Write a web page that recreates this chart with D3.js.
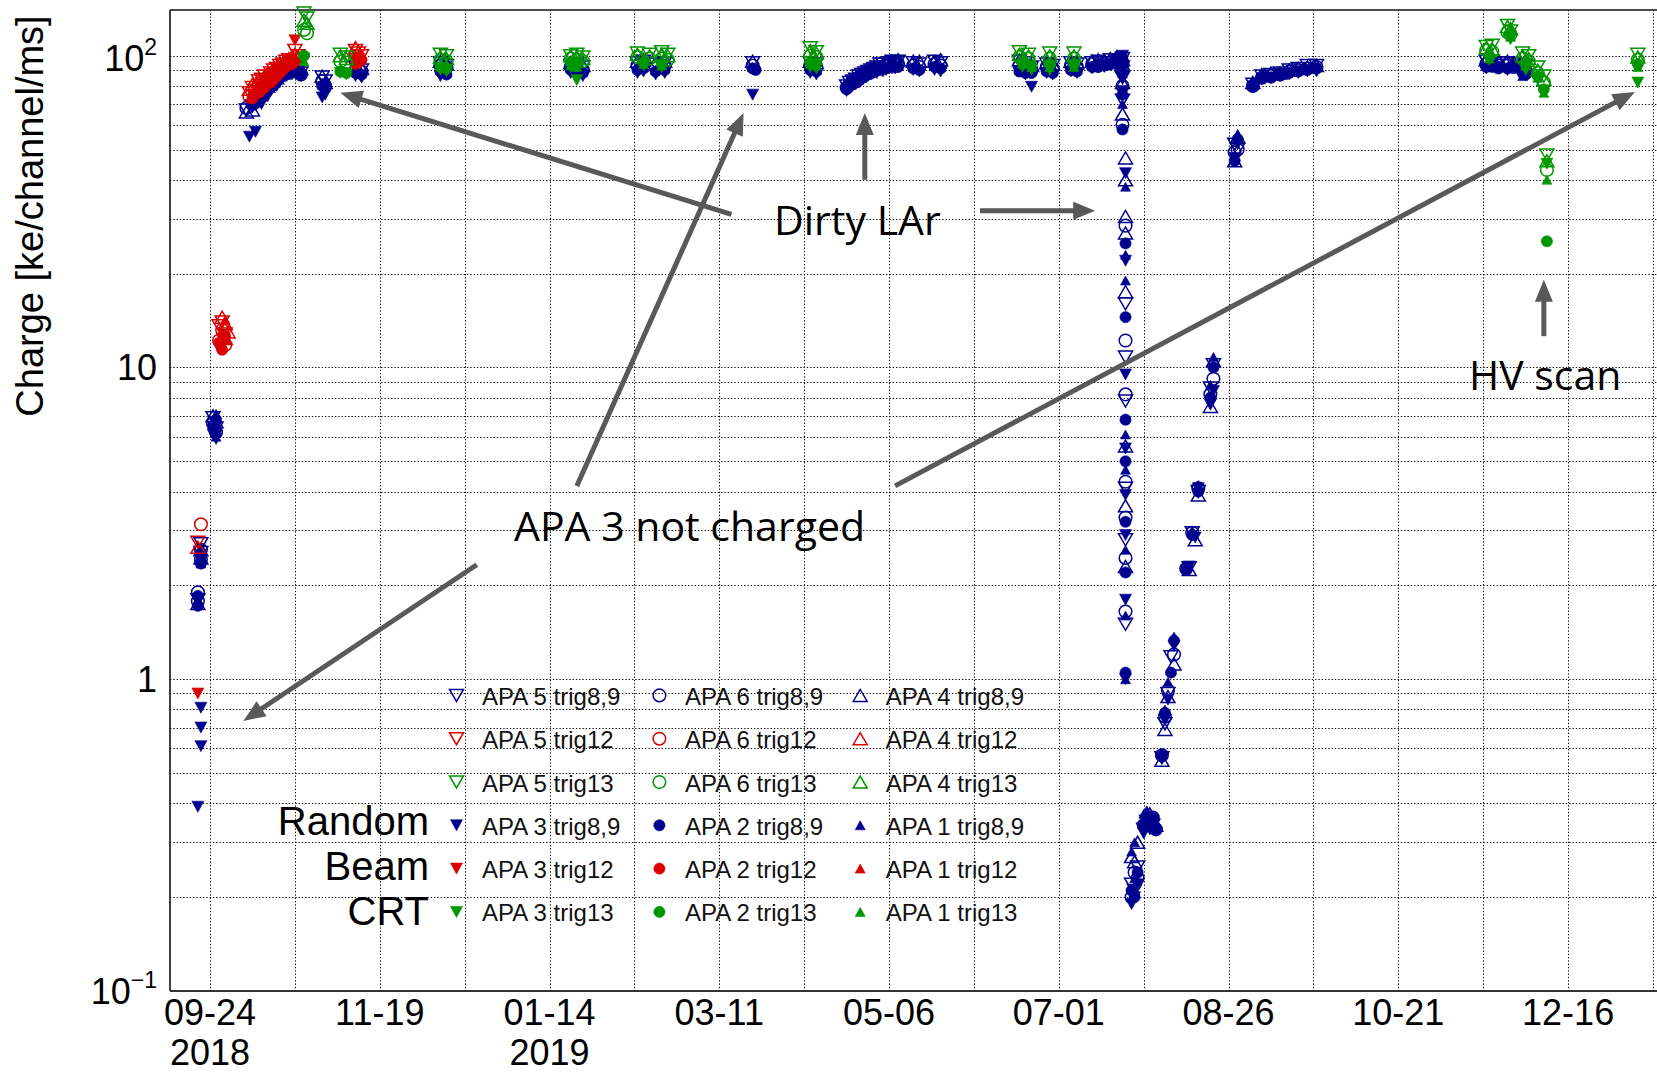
<!DOCTYPE html>
<html>
<head>
<meta charset="utf-8">
<title>Charge vs date</title>
<script src="https://cdn.jsdelivr.net/npm/d3@7"></script>
<style>
  body { margin: 0; background: #fff; overflow: hidden; }
  svg { display: block; }
</style>
</head>
<body>
<div id="chart"></div>
<script>
/******************************************************************************
**  Charge [ke/channel/ms] per APA and trigger type versus date (log scale)
**  trig8,9 = Random (blue), trig12 = Beam (red), trig13 = CRT (green)
******************************************************************************/

/* DATA - [date (yy-mm-dd), charge] ----------------------------------------- */
var apa5_trig89 = [
  ["18-09-20",1.80],["18-09-21",2.72],["18-09-21",2.55],["18-09-25",6.9],["18-09-26",6.4],
  ["18-10-06",67],["18-10-08",69],["18-10-09",72],["18-10-10",74],["18-10-11",76],["18-10-12",79],["18-10-13",81],["18-10-15",84],
  ["18-10-16",85],["18-10-17",87],["18-10-18",88],["18-10-19",90],["18-10-21",91],["18-10-22",92],["18-10-23",90],["18-10-24",88],
  ["18-10-31",85.5],["18-11-01",83],["18-11-11",92],["18-11-13",90],["18-12-09",95],["18-12-11",93],
  ["19-01-21",93],["19-01-23",94],["19-01-25",92],["19-02-12",95],["19-02-14",96],["19-02-18",94],["19-02-21",95],
  ["19-03-22",95],["19-04-10",95],["19-04-12",94],
  ["19-04-22",80],["19-04-23",82],["19-04-24",83],["19-04-25",84],["19-04-26",86],["19-04-27",87],["19-04-28",88],["19-04-29",89],
  ["19-04-30",90],["19-05-01",91],["19-05-02",92],["19-05-03",94],["19-05-04",94],["19-05-06",95],["19-05-07",96],["19-05-08",95],["19-05-09",96],
  ["19-05-14",95],["19-05-16",94],["19-05-21",96],["19-05-23",95],
  ["19-06-18",96],["19-06-20",95],["19-06-22",92],["19-06-27",94],["19-06-29",93],["19-07-05",95],["19-07-07",94],
  ["19-07-12",95],["19-07-14",96],["19-07-16",95],["19-07-18",97],["19-07-20",96],["19-07-21",97],["19-07-22",98],["19-07-22",92],
  ["19-07-22",85],["19-07-22",72],["19-07-23",16],["19-07-23",10.8],["19-07-23",7.8],["19-07-23",4.1],["19-07-23",2.8],["19-07-23",1.5],
  ["19-07-25",0.22],["19-07-26",0.21],["19-07-27",0.25],["19-07-29",0.33],["19-07-30",0.35],["19-08-01",0.34],
  ["19-08-04",0.56],["19-08-05",0.72],["19-08-06",0.9],["19-08-07",1.18],["19-08-13",2.28],["19-08-14",2.95],["19-08-16",4.0],
  ["19-08-20",8.6],["19-08-21",10.2],["19-08-28",52],["19-08-29",50],["19-09-03",81],
  ["19-09-06",86],["19-09-09",87],["19-09-12",88],["19-09-15",90],["19-09-18",91],["19-09-21",93],["19-09-24",93],
  ["19-11-19",96],["19-11-21",96],["19-11-23",95],["19-11-26",95],["19-11-28",94],["19-12-01",92],["19-12-02",93]
];
var apa6_trig89 = [
  ["18-09-20",1.9],["18-09-20",1.78],["18-09-21",2.42],["18-09-21",2.6],["18-09-25",6.6],["18-09-26",6.2],
  ["18-10-06",68],["18-10-08",70],["18-10-09",71],["18-10-10",73],["18-10-11",75],["18-10-12",78],["18-10-14",80],["18-10-15",82],
  ["18-10-16",84],["18-10-17",86],["18-10-18",87],["18-10-19",88],["18-10-21",90],["18-10-22",90],["18-10-23",89],["18-10-24",87],
  ["18-10-31",83],["18-11-01",80],["18-11-11",90],["18-11-13",89],["18-12-09",93],["18-12-11",92],
  ["19-01-21",92],["19-01-23",91],["19-01-25",90],["19-02-12",93],["19-02-14",94],["19-02-18",92],["19-02-21",93],
  ["19-03-22",93],["19-04-10",93],["19-04-12",92],
  ["19-04-22",79],["19-04-23",81],["19-04-24",82],["19-04-25",83],["19-04-26",85],["19-04-27",86],["19-04-28",87],["19-04-29",88],
  ["19-04-30",89],["19-05-01",90],["19-05-02",91],["19-05-03",92],["19-05-05",93],["19-05-06",93],["19-05-08",94],["19-05-09",94],
  ["19-05-14",93],["19-05-16",92],["19-05-21",94],["19-05-23",93],
  ["19-06-18",93],["19-06-20",92],["19-06-22",90],["19-06-27",92],["19-06-29",91],["19-07-05",93],["19-07-07",92],
  ["19-07-12",94],["19-07-14",93],["19-07-16",94],["19-07-18",95],["19-07-20",96],["19-07-21",95],["19-07-22",95],["19-07-22",90],
  ["19-07-22",80],["19-07-22",60],["19-07-23",28.5],["19-07-23",12.2],["19-07-23",8.2],["19-07-23",4.3],["19-07-23",3.3],["19-07-23",2.45],["19-07-23",1.65],
  ["19-07-25",0.2],["19-07-26",0.24],["19-07-27",0.23],["19-07-29",0.34],["19-07-30",0.34],["19-08-01",0.36],["19-08-02",0.33],
  ["19-08-04",0.57],["19-08-05",0.76],["19-08-06",0.92],["19-08-08",1.2],["19-08-12",2.26],["19-08-14",2.95],["19-08-16",4.1],
  ["19-08-20",8.2],["19-08-21",9.2],["19-08-28",49],["19-08-29",50],["19-09-03",80],
  ["19-09-06",85],["19-09-09",86],["19-09-12",87],["19-09-15",89],["19-09-18",90],["19-09-21",91],["19-09-24",92],
  ["19-11-19",94],["19-11-21",94],["19-11-23",93],["19-11-26",93],["19-11-28",92],["19-12-01",90],["19-12-02",89]
];
var apa4_trig89 = [
  ["18-09-20",1.75],["18-09-21",2.6],["18-09-21",2.45],["18-09-25",7.0],["18-09-26",6.7],
  ["18-10-06",66],["18-10-08",67],["18-10-09",73],["18-10-10",75],["18-10-12",79],["18-10-13",80],["18-10-14",83],["18-10-16",85],
  ["18-10-17",87],["18-10-18",88],["18-10-19",89],["18-10-20",90],["18-10-22",93],["18-10-23",91],["18-10-24",91],
  ["18-10-31",86],["18-11-01",82],["18-11-11",93],["18-11-13",91],["18-12-09",96],["18-12-11",94],
  ["19-01-21",95],["19-01-23",94],["19-01-25",93],["19-02-12",96],["19-02-14",97],["19-02-18",95],["19-02-21",96],
  ["19-03-22",96],["19-04-10",96],["19-04-12",95],
  ["19-04-23",83],["19-04-24",84],["19-04-25",85],["19-04-26",86],["19-04-27",88],["19-04-28",89],["19-04-29",90],["19-04-30",91],
  ["19-05-01",92],["19-05-02",93],["19-05-04",94],["19-05-05",95],["19-05-07",96],["19-05-08",96],["19-05-09",97],
  ["19-05-14",96],["19-05-16",96],["19-05-21",96],["19-05-23",97],
  ["19-06-18",97],["19-06-20",96],["19-06-22",93],["19-06-27",95],["19-06-29",94],["19-07-05",96],["19-07-07",95],
  ["19-07-12",96],["19-07-14",97],["19-07-16",96],["19-07-18",98],["19-07-20",99],["19-07-21",98],["19-07-22",97],["19-07-22",94],
  ["19-07-22",82],["19-07-22",65],["19-07-23",47],["19-07-23",40],["19-07-23",30.5],["19-07-23",27],["19-07-23",17.5],["19-07-23",5.6],["19-07-23",3.6],["19-07-23",2.3],
  ["19-07-25",0.27],["19-07-26",0.26],["19-07-27",0.3],["19-07-30",0.36],["19-07-31",0.37],["19-08-02",0.34],
  ["19-08-04",0.55],["19-08-05",0.69],["19-08-06",0.88],["19-08-08",1.12],["19-08-13",2.25],["19-08-15",2.8],["19-08-16",3.9],
  ["19-08-20",7.5],["19-08-21",10.5],["19-08-28",46],["19-08-29",55],["19-09-03",82],
  ["19-09-06",87],["19-09-09",88],["19-09-12",88],["19-09-15",90],["19-09-18",91],["19-09-21",92],["19-09-24",93],
  ["19-11-19",97],["19-11-21",97],["19-11-23",96],["19-11-26",96],["19-11-28",95],["19-12-01",93],["19-12-02",94]
];
var apa3_trig89 = [
  ["18-09-20",0.39],["18-09-21",0.61],["18-09-21",0.70],["18-09-21",0.81],["18-09-25",6.1],["18-09-26",5.9],
  ["18-10-07",55],["18-10-09",57],["18-10-11",70],["18-10-13",74],["18-10-14",77],["18-10-16",80],["18-10-17",82],["18-10-19",86],
  ["18-10-21",87],["18-10-22",88],["18-10-24",86],
  ["18-10-31",73.5],["18-11-01",75],["18-11-11",86],["18-11-13",85],["18-12-09",86],["18-12-11",88],
  ["19-01-21",88],["19-01-23",87],["19-01-25",86],["19-02-12",88],["19-02-14",89],["19-02-18",87],["19-02-21",88],
  ["19-03-22",75],["19-04-10",88],["19-04-12",87],
  ["19-04-22",77],["19-04-23",79],["19-04-24",80],["19-04-25",81],["19-04-26",82],["19-04-27",84],["19-04-28",85],["19-04-29",86],
  ["19-04-30",87],["19-05-01",88],["19-05-02",88],["19-05-04",89],["19-05-05",90],["19-05-07",91],["19-05-08",91],
  ["19-05-14",90],["19-05-16",89],["19-05-21",90],["19-05-23",89],
  ["19-06-18",89],["19-06-20",87],["19-06-22",79.5],["19-06-27",88],["19-06-29",87],["19-07-05",89],["19-07-07",88],
  ["19-07-12",91],["19-07-14",92],["19-07-16",92],["19-07-18",93],["19-07-20",94],["19-07-21",95],["19-07-22",100],["19-07-22",96],
  ["19-07-22",85],["19-07-22",77],["19-07-23",42],["19-07-23",22],["19-07-23",9.5],["19-07-23",5.5],["19-07-23",3.9],["19-07-23",2.9],["19-07-23",1.8],["19-07-23",1.0],
  ["19-07-25",0.19],["19-07-26",0.2],["19-07-27",0.22],["19-07-29",0.32],["19-07-31",0.33],["19-08-01",0.35],
  ["19-08-04",0.56],["19-08-05",0.74],["19-08-06",0.86],["19-08-08",1.28],["19-08-13",2.3],["19-08-15",2.85],["19-08-16",4.1],
  ["19-08-20",7.6],["19-08-21",8.4],["19-08-28",47],["19-08-29",52],["19-09-03",79],
  ["19-09-06",84],["19-09-09",85],["19-09-12",86],["19-09-15",87],["19-09-18",88],["19-09-21",89],["19-09-24",89],
  ["19-11-19",91],["19-11-22",92],["19-11-26",90],["19-12-01",87]
];
var apa2_trig89 = [
  ["18-09-20",1.85],["18-09-20",1.72],["18-09-21",2.35],["18-09-21",2.5],["18-09-25",6.5],["18-09-26",6.3],["18-09-26",6.8],
  ["18-10-08",70],["18-10-10",72],["18-10-11",74],["18-10-12",76],["18-10-13",78],["18-10-15",81],["18-10-16",83],["18-10-17",85],
  ["18-10-18",86],["18-10-19",87],["18-10-20",88],["18-10-22",89],["18-10-23",88],["18-10-24",87],
  ["18-10-31",80],["18-11-01",81],["18-11-11",88],["18-11-13",87],["18-12-09",89],["18-12-11",87],
  ["19-01-21",90],["19-01-23",89],["19-01-25",88],["19-02-12",90],["19-02-14",91],["19-02-18",89],["19-02-21",90],
  ["19-03-22",91],["19-03-23",90],["19-04-10",90],["19-04-12",89],
  ["19-04-22",78],["19-04-23",80],["19-04-24",81],["19-04-25",82],["19-04-26",83],["19-04-27",85],["19-04-28",86],["19-04-29",87],
  ["19-04-30",88],["19-05-01",89],["19-05-02",90],["19-05-03",90],["19-05-05",91],["19-05-06",92],["19-05-08",92],["19-05-09",92],
  ["19-05-14",91],["19-05-16",90],["19-05-21",92],["19-05-23",91],
  ["19-06-18",89],["19-06-20",88],["19-06-22",88],["19-06-27",89],["19-06-29",88],["19-07-05",90],["19-07-07",89],
  ["19-07-12",92],["19-07-14",92],["19-07-16",93],["19-07-18",94],["19-07-20",94],["19-07-21",95],["19-07-22",93],["19-07-22",97],
  ["19-07-22",88],["19-07-22",75],["19-07-22",58],["19-07-23",25],["19-07-23",14.5],["19-07-23",6.8],["19-07-23",5.0],["19-07-23",3.2],["19-07-23",2.2],["19-07-23",1.05],
  ["19-07-25",0.21],["19-07-26",0.2],["19-07-27",0.24],["19-07-29",0.34],["19-07-30",0.36],["19-08-01",0.36],["19-08-02",0.33],
  ["19-08-04",0.57],["19-08-05",0.78],["19-08-07",1.05],["19-08-08",1.33],["19-08-12",2.26],["19-08-14",2.9],["19-08-16",4.0],
  ["19-08-20",8.0],["19-08-21",10.0],["19-08-28",46],["19-08-29",54],["19-09-03",80],
  ["19-09-06",85],["19-09-09",85],["19-09-12",87],["19-09-15",88],["19-09-18",89],["19-09-21",90],["19-09-24",91],
  ["19-11-19",92],["19-11-21",92],["19-11-23",91],["19-11-26",91],["19-11-28",92],["19-12-01",88],["19-12-02",87]
];
var apa1_trig89 = [
  ["18-09-20",1.8],["18-09-21",2.5],["18-09-21",2.65],["18-09-21",2.35],["18-09-25",6.8],["18-09-26",7.1],["18-09-26",6.0],
  ["18-10-08",71],["18-10-10",73],["18-10-11",75],["18-10-12",77],["18-10-14",80],["18-10-15",82],["18-10-16",84],["18-10-17",86],
  ["18-10-18",87],["18-10-19",88],["18-10-21",89],["18-10-22",90],["18-10-23",89],["18-10-24",89],
  ["18-10-31",82],["18-11-01",79],["18-11-11",89],["18-11-13",88],["18-12-09",90],["18-12-11",88],
  ["19-01-21",91],["19-01-23",90],["19-01-25",89],["19-02-12",91],["19-02-14",92],["19-02-18",90],["19-02-21",91],
  ["19-03-22",92],["19-04-10",91],["19-04-12",90],
  ["19-04-22",79],["19-04-23",81],["19-04-24",82],["19-04-25",82],["19-04-26",84],["19-04-27",85],["19-04-28",87],["19-04-29",87],
  ["19-04-30",88],["19-05-01",89],["19-05-02",91],["19-05-03",91],["19-05-05",92],["19-05-06",92],["19-05-07",93],["19-05-09",93],
  ["19-05-14",92],["19-05-16",91],["19-05-21",93],["19-05-23",92],
  ["19-06-18",90],["19-06-20",89],["19-06-22",89],["19-06-27",90],["19-06-29",89],["19-07-05",91],["19-07-07",90],
  ["19-07-12",93],["19-07-14",93],["19-07-16",94],["19-07-18",95],["19-07-20",96],["19-07-21",96],["19-07-22",99],["19-07-22",98],
  ["19-07-22",88],["19-07-22",70],["19-07-23",38],["19-07-23",23],["19-07-23",19],["19-07-23",6.1],["19-07-23",4.7],["19-07-23",2.6],["19-07-23",1.6],["19-07-23",1.0],
  ["19-07-25",0.28],["19-07-26",0.3],["19-07-26",0.23],["19-07-29",0.37],["19-07-30",0.38],["19-08-02",0.35],
  ["19-08-04",0.58],["19-08-05",0.8],["19-08-06",0.98],["19-08-08",1.37],["19-08-12",2.3],["19-08-14",3.0],["19-08-16",4.2],
  ["19-08-20",8.8],["19-08-21",10.8],["19-08-28",48],["19-08-29",56],["19-09-03",82],
  ["19-09-06",86],["19-09-09",86],["19-09-12",88],["19-09-15",89],["19-09-18",90],["19-09-21",91],["19-09-24",92],
  ["19-11-19",93],["19-11-21",93],["19-11-23",92],["19-11-26",92],["19-11-28",94],["19-12-01",86],["19-12-02",88]
];

var apa5_trig12 = [["18-09-20",2.75],["18-09-27",13.6],["18-09-28",14],["18-09-29",12.8],["18-10-07",76],["18-10-08",79],["18-10-10",83],["18-10-11",84],["18-10-12",86],["18-10-14",88],["18-10-15",90],["18-10-16",91],["18-10-17",93],["18-10-18",94],["18-10-19",96],["18-10-20",97],["18-10-22",104],["18-10-23",100],["18-11-11",104],["18-11-12",102],["18-11-13",100]];
var apa6_trig12 = [["18-09-21",3.14],["18-09-27",12.2],["18-09-28",13.2],["18-09-29",11.8],["18-10-07",74],["18-10-09",78],["18-10-10",80],["18-10-11",82],["18-10-13",85],["18-10-14",87],["18-10-15",88],["18-10-16",90],["18-10-18",92],["18-10-19",94],["18-10-20",95],["18-10-22",99],["18-10-23",98],["18-11-11",100],["18-11-12",98]];
var apa4_trig12 = [["18-09-20",2.65],["18-09-28",14.5],["18-09-29",13.8],["18-09-30",13],["18-10-07",78],["18-10-08",81],["18-10-10",84],["18-10-12",86],["18-10-13",88],["18-10-15",90],["18-10-16",92],["18-10-17",94],["18-10-19",96],["18-10-20",98],["18-10-22",101],["18-10-23",99],["18-11-11",106],["18-11-12",103]];
var apa3_trig12 = [["18-09-20",0.90],["18-09-27",11.5],["18-09-28",12.4],["18-10-08",75],["18-10-10",77],["18-10-11",79],["18-10-12",80],["18-10-14",84],["18-10-15",86],["18-10-17",88],["18-10-18",90],["18-10-20",96],["18-10-21",97],["18-10-22",112],["18-11-11",96],["18-11-12",98]];
var apa2_trig12 = [["18-09-27",12],["18-09-28",11.4],["18-09-29",12.6],["18-10-08",73],["18-10-10",76],["18-10-11",78],["18-10-12",79],["18-10-14",82],["18-10-15",84],["18-10-16",86],["18-10-17",88],["18-10-18",90],["18-10-19",92],["18-10-21",94],["18-10-22",96],["18-11-11",94],["18-11-12",95],["18-11-13",97]];
var apa1_trig12 = [["18-09-28",13],["18-09-29",14.2],["18-09-30",12.2],["18-10-08",74],["18-10-10",78],["18-10-11",80],["18-10-12",82],["18-10-14",84],["18-10-15",86],["18-10-16",87],["18-10-17",89],["18-10-18",91],["18-10-19",93],["18-10-21",95],["18-10-22",98],["18-11-11",97],["18-11-12",99]];

var apa5_trig13 = [["18-10-25",137],["18-10-26",132],["18-11-06",101],["18-11-08",99],["18-12-09",101],["18-12-11",100],["19-01-21",100],["19-01-23",101],["19-01-25",99],["19-02-12",102],["19-02-16",101],["19-02-20",103],["19-02-22",101],["19-04-10",106],["19-04-12",103],["19-06-18",103],["19-06-21",101],["19-06-28",102],["19-07-06",102],["19-11-19",107],["19-11-21",108],["19-11-26",125],["19-11-27",120],["19-12-01",102],["19-12-03",100],["19-12-06",92],["19-12-08",86],["19-12-09",48],["20-01-08",101]];
var apa6_trig13 = [["18-10-25",121],["18-10-26",118],["18-11-06",96],["18-11-08",95],["18-12-09",97],["18-12-11",96],["19-01-21",98],["19-01-23",97],["19-01-25",96],["19-02-12",99],["19-02-16",98],["19-02-20",98],["19-02-22",97],["19-04-10",100],["19-04-12",99],["19-06-18",99],["19-06-21",98],["19-06-28",98],["19-07-06",98],["19-11-19",104],["19-11-21",103],["19-11-26",119],["19-11-27",117],["19-12-01",98],["19-12-03",96],["19-12-06",88],["19-12-08",82],["19-12-09",43],["20-01-08",97]];
var apa4_trig13 = [["18-10-25",130],["18-10-26",127],["18-11-06",100],["18-11-08",98],["18-12-09",99],["18-12-11",98],["19-01-21",100],["19-01-23",99],["19-01-25",98],["19-02-12",101],["19-02-16",100],["19-02-20",101],["19-02-22",100],["19-04-10",104],["19-04-12",102],["19-06-18",101],["19-06-21",100],["19-06-28",100],["19-07-06",100],["19-11-19",106],["19-11-21",105],["19-11-26",124],["19-11-27",122],["19-12-01",100],["19-12-03",98],["19-12-06",90],["19-12-08",84],["19-12-09",46],["20-01-08",99]];
var apa3_trig13 = [["18-10-25",98],["18-11-06",88],["18-11-08",87],["18-12-09",90],["18-12-11",89],["19-01-21",92],["19-01-23",83.5],["19-02-14",93],["19-02-20",92],["19-04-10",92],["19-04-12",91],["19-06-19",92],["19-06-22",90],["19-06-28",90],["19-07-06",93],["19-11-20",97],["19-11-27",113],["19-12-02",90],["19-12-06",84],["19-12-08",77],["19-12-09",45],["20-01-08",82]];
var apa2_trig13 = [["18-10-25",100],["18-11-06",89],["18-11-08",88],["18-12-09",92],["18-12-11",91],["19-01-21",95],["19-01-23",94],["19-02-14",95],["19-02-20",94],["19-04-10",95],["19-04-12",94],["19-06-19",95],["19-06-22",93],["19-06-28",94],["19-07-06",94],["19-11-20",100],["19-11-27",118],["19-12-02",95],["19-12-06",86],["19-12-08",78],["19-12-09",25.4],["20-01-08",94]];
var apa1_trig13 = [["18-10-25",96],["18-11-06",90],["18-11-08",89],["18-12-09",93],["18-12-11",92],["19-01-21",93],["19-01-23",92],["19-02-14",94],["19-02-20",93],["19-04-10",94],["19-04-12",93],["19-06-19",94],["19-06-22",92],["19-06-28",92],["19-07-06",92],["19-11-20",98],["19-11-27",115],["19-12-02",93],["19-12-06",85],["19-12-08",76],["19-12-09",40],["20-01-08",92]];

// axis labels
var xTickLabels = ["09-24","11-19","01-14","03-11","05-06","07-01","08-26","10-21","12-16"];
var xYearLabels = ["2018","","2019","","","","","",""];
var yTickValues = [0.1, 1, 10, 100];
var yTickBase   = ["10", "1", "10", "10"];
var yTickExp    = ["\u22121", "", "", "2"];

// legend order: rows of three, as in the figure
var legendApas  = [[5, 6, 4], [3, 2, 1]];
var legendTrigs = ["8,9", "12", "13"];
var triggerNames = ["Random", "Beam", "CRT"];

// annotation arrows, in data units [date, charge]
var arrows = [
  {from: ["19-03-15", 31],   to: ["18-11-06", 76]},
  {from: ["19-04-28", 40],   to: ["19-04-28", 65.5]},
  {from: ["19-06-05", 31.8], to: ["19-07-13", 31.8]},
  {from: ["19-01-23", 4.17], to: ["19-03-19", 65.5]},
  {from: ["19-05-08", 4.17], to: ["20-01-07", 76.5]},
  {from: ["18-12-21", 2.33], to: ["18-10-05", 0.735]},
  {from: ["19-12-08", 12.6], to: ["19-12-08", 19.1]}
];

/* BUILD CHART ------------------------------------------------------------- */
var width = 1657, height = 1073;
var plotLeft = 170, plotTop = 10, plotBottom = 991, plotRight = 1662;

var trigColor = {"8,9": "#00008e", "12": "#d80000", "13": "#009600"};
var apaShape  = {5: "triDown", 6: "circle", 4: "triUp", 3: "triDown", 2: "circle", 1: "triUp"};
var apaOpen   = {5: true, 6: true, 4: true, 3: false, 2: false, 1: false};

var dataByKey = {
  "5|8,9": apa5_trig89, "6|8,9": apa6_trig89, "4|8,9": apa4_trig89,
  "3|8,9": apa3_trig89, "2|8,9": apa2_trig89, "1|8,9": apa1_trig89,
  "5|12": apa5_trig12, "6|12": apa6_trig12, "4|12": apa4_trig12,
  "3|12": apa3_trig12, "2|12": apa2_trig12, "1|12": apa1_trig12,
  "5|13": apa5_trig13, "6|13": apa6_trig13, "4|13": apa4_trig13,
  "3|13": apa3_trig13, "2|13": apa2_trig13, "1|13": apa1_trig13
};

var parseDay = d3.utcParse("%y-%m-%d");
var startDay = parseDay("18-09-24");

var x = d3.scaleUtc()
    .domain([startDay, parseDay("20-01-13")])
    .range([210, 1653]);
var y = d3.scaleLog()
    .domain([0.1, 100])
    .range([plotBottom, 55.7]);

var svg = d3.select("#chart").append("svg")
    .attr("width", width)
    .attr("height", height)
    .style("font-family", "'Liberation Sans', Arial, Helvetica, sans-serif");

// marker path for a shape, centred on 0,0
function markerPath(shape, open) {
    if (shape === "circle") {
        var r = open ? 6.3 : 5.6;
        return "M" + (-r) + ",0A" + r + "," + r + " 0 1,0 " + r + ",0A" + r + "," + r + " 0 1,0 " + (-r) + ",0Z";
    }
    var w = open ? 14 : (shape === "triUp" ? 10 : 12);
    var h = open ? 12 : (shape === "triUp" ? 9 : 11);
    if (shape === "triDown")
        return "M" + (-w / 2) + "," + (-h / 2) + "L" + (w / 2) + "," + (-h / 2) + "L0," + (h / 2) + "Z";
    return "M" + (-w / 2) + "," + (h / 2) + "L" + (w / 2) + "," + (h / 2) + "L0," + (-h / 2) + "Z";
}

function styleMarker(sel, apa, trig) {
    var c = trigColor[trig];
    sel.attr("d", markerPath(apaShape[apa], apaOpen[apa]))
       .attr("fill", apaOpen[apa] ? "none" : c)
       .attr("stroke", c)
       .attr("stroke-width", apaOpen[apa] ? 1.5 : 0.6);
}

// grid
var grid = svg.append("g").attr("stroke", "#000").attr("stroke-width", 1)
    .attr("stroke-dasharray", "1.3,2");

var gridDates = d3.range(0, 18).map(function(i) { return d3.utcDay.offset(startDay, 28 * i); });
grid.selectAll("line.v").data(gridDates).enter().append("line")
    .attr("x1", function(d) { return Math.round(x(d)) + 0.5; })
    .attr("x2", function(d) { return Math.round(x(d)) + 0.5; })
    .attr("y1", plotTop).attr("y2", plotBottom);

grid.selectAll("line.h").data(y.ticks()).enter().append("line")
    .attr("x1", plotLeft).attr("x2", plotRight)
    .attr("y1", function(d) { return Math.round(y(d)) + 0.5; })
    .attr("y2", function(d) { return Math.round(y(d)) + 0.5; });

// frame
svg.append("line").attr("x1", plotLeft).attr("x2", plotLeft).attr("y1", plotTop).attr("y2", plotBottom)
    .attr("stroke", "#111").attr("stroke-width", 1.6);
svg.append("line").attr("x1", plotLeft).attr("x2", plotRight).attr("y1", plotTop).attr("y2", plotTop)
    .attr("stroke", "#111").attr("stroke-width", 1.6);
svg.append("line").attr("x1", plotLeft).attr("x2", plotRight).attr("y1", plotBottom).attr("y2", plotBottom)
    .attr("stroke", "#333").attr("stroke-width", 2.2);

// points: trigger by trigger, filled first then open
var points = svg.append("g");
legendTrigs.forEach(function(trig) {
    [3, 2, 1, 5, 6, 4].forEach(function(apa) {
        var data = dataByKey[apa + "|" + trig];
        points.selectAll(null).data(data).enter().append("path")
            .attr("transform", function(d) { return "translate(" + x(parseDay(d[0])) + "," + y(d[1]) + ")"; })
            .call(styleMarker, apa, trig);
    });
});

// x tick labels (two rows: month-day, then year)
var labelDates = gridDates.filter(function(d, i) { return i % 2 === 0; }).slice(0, xTickLabels.length);
var xl = svg.append("g").attr("font-size", 36).attr("text-anchor", "middle").attr("fill", "#000");
xl.selectAll("text.md").data(labelDates).enter().append("text")
    .attr("x", function(d) { return x(d); }).attr("y", 1025)
    .text(function(d, i) { return xTickLabels[i]; });
xl.selectAll("text.yr").data(labelDates).enter().append("text")
    .attr("x", function(d) { return x(d); }).attr("y", 1065.3)
    .text(function(d, i) { return xYearLabels[i]; });

// y tick labels
var yl = svg.append("g").attr("font-size", 36).attr("text-anchor", "end").attr("fill", "#000");
yTickValues.forEach(function(v, i) {
    var t = yl.append("text").attr("x", 157).attr("y", y(v) + (yTickExp[i] === "2" ? 15 : 13)).text(yTickBase[i]);
    if (yTickExp[i]) t.append("tspan").attr("dy", -16).attr("font-size", 23).text(yTickExp[i]);
});

// y axis title
svg.append("text")
    .attr("transform", "translate(43,216) rotate(-90)")
    .attr("text-anchor", "middle")
    .attr("font-size", 38)
    .text("Charge [ke/channel/ms]");

// legend
var legend = svg.append("g");
legendApas.forEach(function(apaRow, block) {
    legendTrigs.forEach(function(trig, t) {
        var ry = 695.4 + (block * 3 + t) * 43.3;
        apaRow.forEach(function(apa, col) {
            var mx = [456.5, 659.4, 860.2][col];
            legend.append("path").attr("transform", "translate(" + mx + "," + ry + ")").call(styleMarker, apa, trig);
            legend.append("text").attr("x", mx + 25.5).attr("y", ry + 9.5)
                .attr("font-size", 24).attr("fill", "#111")
                .text("APA " + apa + " trig" + trig);
        });
    });
});

// trigger names beside the filled-marker rows (tight stack, as in the figure)
var trigNames = svg.append("g").attr("font-size", 40).attr("text-anchor", "end").attr("fill", "#000");
triggerNames.forEach(function(name, i) {
    trigNames.append("text").attr("x", 429).attr("y", 835 + i * 45).text(name);
});

// annotations
var note = svg.append("g").style("font-family", "'Open Sans', 'Noto Sans', sans-serif").attr("font-size", 41).attr("fill", "#000");
note.append("text").attr("x", 774).attr("y", 235).text("Dirty LAr");
note.append("text").attr("x", 514).attr("y", 541).text("APA 3 not charged");
note.append("text").attr("x", 1469).attr("y", 390).text("HV scan");

var arrowColor = "#595959";
var arrowG = svg.append("g");
arrows.forEach(function(a) {
    var x1 = x(parseDay(a.from[0])), y1 = y(a.from[1]);
    var x2 = x(parseDay(a.to[0])),   y2 = y(a.to[1]);
    var len = Math.hypot(x2 - x1, y2 - y1), ux = (x2 - x1) / len, uy = (y2 - y1) / len;
    var headL = 22, headW = 9;
    var bx = x2 - ux * headL, by = y2 - uy * headL;
    arrowG.append("line").attr("x1", x1).attr("y1", y1).attr("x2", bx + ux * 2).attr("y2", by + uy * 2)
        .attr("stroke", arrowColor).attr("stroke-width", 5);
    arrowG.append("path")
        .attr("d", "M" + x2 + "," + y2 + "L" + (bx - uy * headW) + "," + (by + ux * headW) +
                   "L" + (bx + uy * headW) + "," + (by - ux * headW) + "Z")
        .attr("fill", arrowColor);
});
</script>
</body>
</html>
